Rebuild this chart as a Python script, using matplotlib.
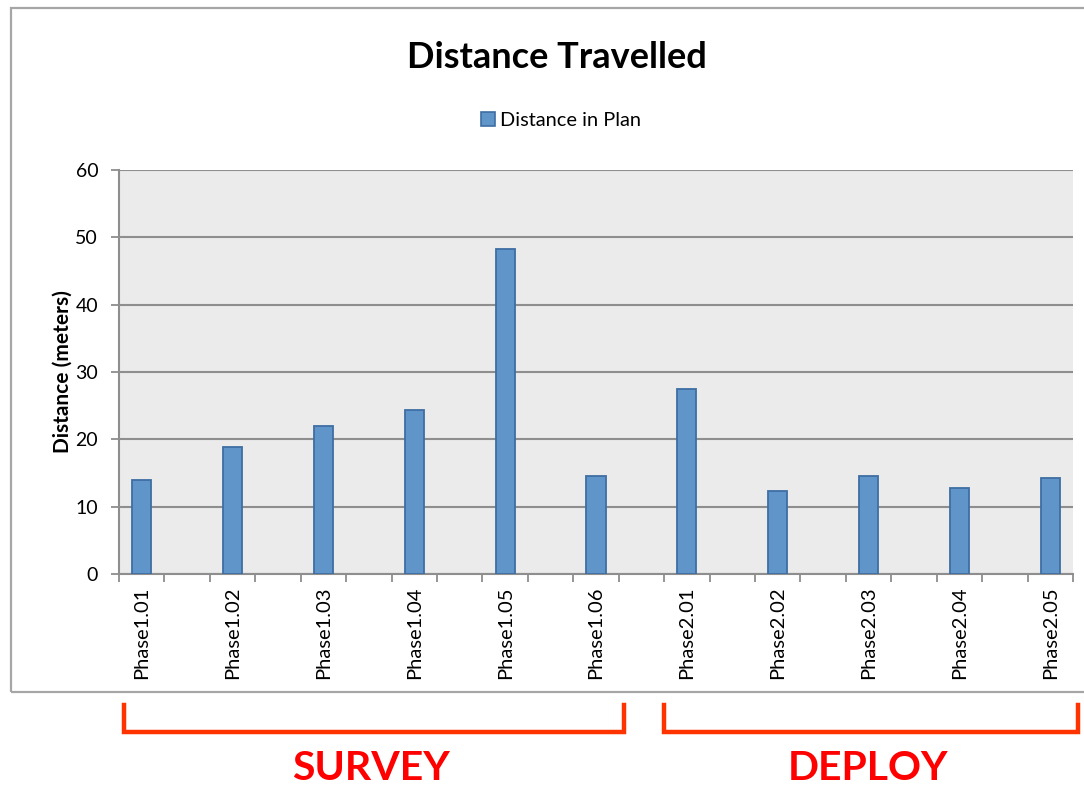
import numpy as np
import matplotlib.pyplot as plt
from matplotlib.patches import Rectangle, Patch
from matplotlib.lines import Line2D

plt.rcParams['font.family'] = ['Lato', 'DejaVu Sans']

labels = ['Phase1.01', 'Phase1.02', 'Phase1.03', 'Phase1.04', 'Phase1.05', 'Phase1.06',
          'Phase2.01', 'Phase2.02', 'Phase2.03', 'Phase2.04', 'Phase2.05']
distance = [14.0, 18.8, 22.0, 24.3, 48.2, 14.6, 27.5, 12.4, 14.6, 12.7, 14.3]
yticks = [0, 10, 20, 30, 40, 50, 60]

W, H = 1084, 785
fig = plt.figure(figsize=(W / 100, H / 100), dpi=100)

def fx(px):
    return px / W

def fy(py):
    return 1 - py / H

# outer chart frame (right side runs off the image)
fig.patches.append(Rectangle((fx(11), fy(692)), fx(1100), fy(8) - fy(692),
                             transform=fig.transFigure, fill=False,
                             edgecolor='#a6a6a6', linewidth=1.6))

ax = fig.add_axes([fx(119), fy(574), fx(1073) - fx(119), fy(170) - fy(574)])
ax.set_facecolor('#ebebeb')

# every other category slot is empty, like the source sheet
pos = np.arange(len(labels)) * 2
ax.bar(pos, distance, width=0.42, color='#6095c9', edgecolor='#3e6ea3', linewidth=1.3,
       zorder=3)

ax.set_xlim(-0.5, pos[-1] + 0.5)
ax.set_ylim(0, 60)
ax.set_yticks(yticks)
ax.yaxis.grid(True, color='#8e8e8e', linewidth=1.5, zorder=1)
ax.set_axisbelow(True)

ax.set_xticks(pos)
ax.set_xticklabels(labels, rotation=90, fontsize=14.5)
ax.set_xticks(np.arange(-0.5, pos[-1] + 1, 1), minor=True)
ax.tick_params(axis='x', which='major', length=0, pad=9)
ax.tick_params(axis='x', which='minor', length=6, width=1.3, color='#8e8e8e')
ax.tick_params(axis='y', length=6, width=1.3, color='#8e8e8e', labelsize=14, pad=9)

for s in ['top', 'right']:
    ax.spines[s].set_visible(False)
for s in ['left', 'bottom']:
    ax.spines[s].set_color('#8e8e8e')
    ax.spines[s].set_linewidth(1.5)

ax.set_ylabel('Distance (meters)', fontsize=15, fontweight='bold', labelpad=2)

fig.text(fx(557), fy(57), 'Distance Travelled', ha='center', va='center',
         fontsize=26, fontweight='bold')

handle = Patch(facecolor='#6095c9', edgecolor='#3e6ea3', linewidth=1.2)
fig.legend([handle], ['Distance in Plan'], loc='center', bbox_to_anchor=(fx(561), fy(120)),
           frameon=False, fontsize=14.4, handlelength=0.7, handleheight=0.7,
           handletextpad=0.25)

# group brackets under the axis
red = '#ff3300'
for x0, x1, name in [(124, 624, 'SURVEY'), (664, 1078, 'DEPLOY')]:
    fig.add_artist(Line2D([fx(x0), fx(x0), fx(x1), fx(x1)],
                          [fy(705), fy(732), fy(732), fy(705)],
                          transform=fig.transFigure, color=red, linewidth=3.2,
                          solid_joinstyle='miter'))
    fig.text(fx((x0 + x1) / 2 - 3), fy(768), name, ha='center', va='center',
             fontsize=29.5, fontweight='bold', color='#ff0000')

fig.savefig('out.png', dpi=100)
